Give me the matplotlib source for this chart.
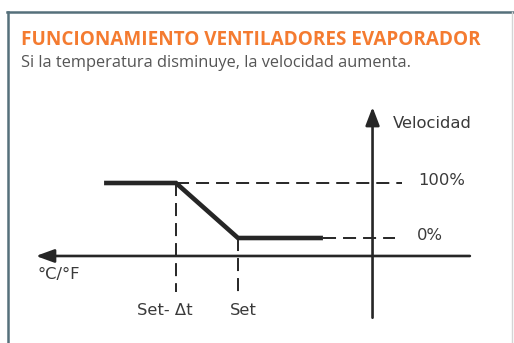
import numpy as np
import matplotlib.pyplot as plt
from matplotlib.patches import FancyArrowPatch

# schematic data: temperature in units of delta-t relative to Set, speed in %
curve_t = [-2.16, -1.0, 0.0, 1.37]
curve_v = [100, 100, 0, 0]
set_points = [-1.0, 0.0]
set_labels = ["Set- \u0394t", "Set"]
levels = [100, 0]
level_labels = ["100%", "0%"]
level_ends = [2.64, 2.53]

# pixel mapping helpers (62 px per delta-t, 55 px per 100 %)
W, H = 514, 343
x0px, y0px, sx, sy = 238, 238, 62.0, 0.55

fig = plt.figure(figsize=(W / 100, H / 100), dpi=100)
ax = fig.add_axes([0, 0, 1, 1])
ax.set_xlim(-x0px / sx, (W - x0px) / sx)
ax.set_ylim((y0px - H) / sy, y0px / sy)
ax.axis("off")

ink = "#262626"
txt = "#3a3a3a"
lab_font = dict(color=txt, fontsize=11.8, family="DejaVu Sans")

# frame
fig.add_artist(plt.Line2D([8 / W, 8 / W], [0, 1 - 12 / H], color="#55707b", lw=1.8, transform=fig.transFigure))
fig.add_artist(plt.Line2D([7.2 / W, 1], [1 - 12 / H, 1 - 12 / H], color="#55707b", lw=1.8, transform=fig.transFigure))
fig.add_artist(plt.Line2D([511.8 / W, 511.8 / W], [0, 1 - 12 / H], color="#d4d4d4", lw=1.0, transform=fig.transFigure))

fig.text(21 / W, 1 - 45 / H, "FUNCIONAMIENTO VENTILADORES EVAPORADOR", color="#f47b30",
         fontsize=13.6, fontweight="bold", family="Open Sans", va="baseline")
fig.text(21 / W, 1 - 67 / H, "Si la temperatura disminuye, la velocidad aumenta.", color="#555555",
         fontsize=11.8, family="Open Sans", va="baseline")

# axes arrows
t_axis = 2.17
v_axis = -32.7
ax.add_patch(FancyArrowPatch((3.74, v_axis), (-3.26, v_axis), arrowstyle="-|>,head_length=11,head_width=4",
                             color=ink, lw=1.9, shrinkA=0, shrinkB=0))
ax.add_patch(FancyArrowPatch((t_axis, -145), (t_axis, 238), arrowstyle="-|>,head_length=11,head_width=4.2",
                             color=ink, lw=1.9, shrinkA=0, shrinkB=0))

# dashed guides
for lv, end, lab in zip(levels, level_ends, level_labels):
    start = curve_t[1] if lv == 100 else curve_t[-1]
    ax.plot([start, end], [lv, lv], color=ink, lw=1.4, dashes=(6.7, 3.6))
    ax.text(2.90 if lv == 100 else 2.89, lv + 4.5, lab, va="center", ha="left", **lab_font)
for sp, lab in zip(set_points, set_labels):
    ax.plot([sp, sp], [100 if sp == -1.0 else 0, -98], color=ink, lw=1.4, dashes=(6.7, 3.6))
    ax.text(sp - 0.18 if sp == -1.0 else sp + 0.08, -131, lab, va="center", ha="center", **lab_font)

# control curve
ax.plot(curve_t, curve_v, color=ink, lw=3.3, solid_joinstyle="miter", solid_capstyle="butt")

ax.text(-3.24, -67, "\u00b0C/\u00b0F", va="center", ha="left", **lab_font)
ax.text(2.5, 208, "Velocidad", va="center", ha="left", **lab_font)

fig.savefig("out.png", dpi=100, facecolor="white")
